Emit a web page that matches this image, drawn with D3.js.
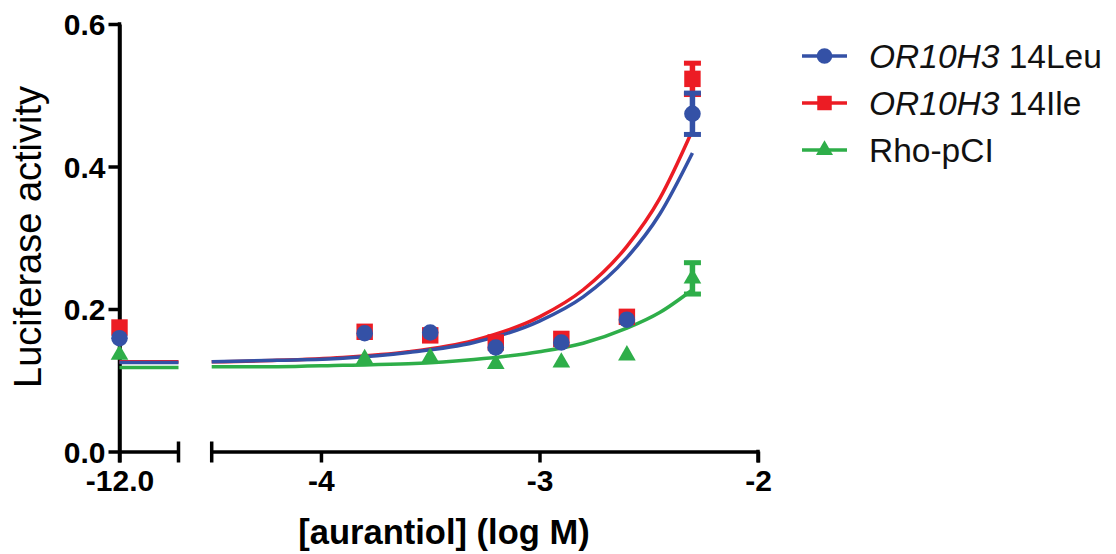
<!DOCTYPE html>
<html><head><meta charset="utf-8">
<script src="https://cdn.jsdelivr.net/npm/d3@7"></script>
<style>body{margin:0;background:#fff}</style>
</head><body><svg id="c" width="1116" height="554"></svg>
<script>
// ---- data ----
const concLeft = [-12.0];
const concRight = [-3.8, -3.5, -3.2, -2.9, -2.6, -2.3];
const leuLeft = [0.159];
const leuRight = [0.166, 0.167, 0.146, 0.153, 0.185, 0.474];
const leuErr = [0, 0, 0, 0, 0, 0.029];
const ileLeft = [0.174];
const ileRight = [0.168, 0.163, 0.153, 0.158, 0.189, 0.523];
const ileErr = [0, 0, 0, 0, 0, 0.022];
const rhoLeft = [0.136];
const rhoRight = [0.130, 0.132, 0.123, 0.125, 0.135, 0.243];
const rhoErr = [0, 0, 0, 0, 0, 0.022];
// fitted curves
const fitLeftX = [-12.0, -11.73];
const leuFitLeft = [0.125, 0.125];
const ileFitLeft = [0.126, 0.126];
const rhoFitLeft = [0.118, 0.118];
const fitX = [-4.5, -4.2, -3.9, -3.6, -3.3, -3.0, -2.8, -2.6, -2.45, -2.3];
const leuFit = [0.126, 0.128, 0.131, 0.139, 0.153, 0.183, 0.217, 0.272, 0.333, 0.419];
const ileFit = [0.126, 0.128, 0.132, 0.140, 0.156, 0.189, 0.227, 0.288, 0.355, 0.451];
const rhoFit = [0.119, 0.119, 0.121, 0.123, 0.129, 0.140, 0.152, 0.173, 0.195, 0.227];
const yTicks = [0, 0.2, 0.4, 0.6];
const xTicksLeft = [-12.0];
const xTicksRight = [-4, -3, -2];
const legendItalic = ["OR10H3", "OR10H3", ""];
const legendRest = [" 14Leu", " 14Ile", "Rho-pCI"];

const colors = {leu: "#3451a6", ile: "#ec1c24", rho: "#2eae49"};
const FONT = "'Liberation Sans', Arial, Helvetica, sans-serif";

const svg = d3.select("#c");
const y = d3.scaleLinear().domain([0, 0.6]).range([451.5, 24]);
const xl = d3.scaleLinear().domain([-12.0, -11.73]).range([119.5, 178.5]);
const xr = d3.scaleLinear().domain([-4.5, -2]).range([211.7, 758]);

const AX = 3.5;
const gy = svg.append("g").attr("transform", `translate(${xl(-12.0)},0)`)
  .call(d3.axisLeft(y).tickValues(yTicks).tickFormat(d => d.toFixed(1)).tickSize(11).tickSizeOuter(0).tickPadding(3));
const gxl = svg.append("g").attr("transform", `translate(0,${y(0)})`)
  .call(d3.axisBottom(xl).tickValues(xTicksLeft).tickFormat(d => d.toFixed(1)).tickSize(11).tickSizeOuter(0).tickPadding(7));
const gxr = svg.append("g").attr("transform", `translate(0,${y(0)})`)
  .call(d3.axisBottom(xr).tickValues(xTicksRight).tickFormat(d => d.toFixed(0)).tickSize(11).tickSizeOuter(0).tickPadding(7));

[gy, gxl, gxr].forEach(g => {
  g.select(".domain").attr("stroke", "#000").attr("stroke-width", AX);
  g.selectAll(".tick line").attr("stroke", "#000").attr("stroke-width", AX);
  g.selectAll(".tick text").attr("fill", "#000").style("font-family", FONT)
    .style("font-weight", "bold").style("font-size", "30px");
});
gy.selectAll(".tick text").attr("dy", "0.36em");
svg.append("line").attr("x1", xl(-12.0)).attr("x2", xl(-12.0)).attr("y1", y(0.6) - AX/2).attr("y2", y(0) + 11)
  .attr("stroke", "#000").attr("stroke-width", AX);
[xl(-11.73), xr(-4.5)].forEach(cx => {
  svg.append("line").attr("x1", cx).attr("x2", cx).attr("y1", y(0) - 10).attr("y2", y(0) + 11)
    .attr("stroke", "#000").attr("stroke-width", AX);
});
svg.append("line").attr("x1", xr(-2)).attr("x2", xr(-2)).attr("y1", y(0) - AX/2).attr("y2", y(0) + 11)
  .attr("stroke", "#000").attr("stroke-width", AX);

// axis titles
svg.append("text").attr("x", 444).attr("y", 544).attr("text-anchor", "middle")
  .style("font-family", FONT).style("font-weight", "bold").style("font-size", "34.5px")
  .text("[aurantiol] (log M)");
svg.append("text").attr("transform", "translate(41,237) rotate(-90)").attr("text-anchor", "middle")
  .style("font-family", FONT).style("font-size", "38px").text("Luciferase activity");

const series = [
  {key: "rho", fitL: rhoFitLeft, fit: rhoFit, ptsL: rhoLeft, pts: rhoRight, err: rhoErr, sym: d3.symbolTriangle, size: 135},
  {key: "ile", fitL: ileFitLeft, fit: ileFit, ptsL: ileLeft, pts: ileRight, err: ileErr, sym: d3.symbolSquare, size: 270},
  {key: "leu", fitL: leuFitLeft, fit: leuFit, ptsL: leuLeft, pts: leuRight, err: leuErr, sym: d3.symbolCircle, size: 215},
];
const lineL = d3.line().x((d, i) => xl(fitLeftX[i])).y(d => y(d));
const lineR = d3.line().x((d, i) => xr(fitX[i])).y(d => y(d)).curve(d3.curveMonotoneX);
series.forEach(s => {
  svg.append("path").attr("d", lineL(s.fitL)).attr("fill", "none").attr("stroke", colors[s.key]).attr("stroke-width", 3.5);
  svg.append("path").attr("d", lineR(s.fit)).attr("fill", "none").attr("stroke", colors[s.key]).attr("stroke-width", 3.5);
});
series.forEach(s => {
  const c = colors[s.key];
  const g = svg.append("g");
  s.pts.forEach((v, i) => {
    const e = s.err[i];
    if (e > 0) {
      const cx = xr(concRight[i]);
      g.append("line").attr("x1", cx).attr("x2", cx).attr("y1", y(v + e)).attr("y2", y(v - e)).attr("stroke", c).attr("stroke-width", 5.5);
      [v + e, v - e].forEach(t => g.append("line").attr("x1", cx - 8.5).attr("x2", cx + 8.5).attr("y1", y(t)).attr("y2", y(t))
        .attr("stroke", c).attr("stroke-width", 5));
    }
  });
  const sym = d3.symbol().type(s.sym).size(s.size);
  s.ptsL.forEach((v, i) => g.append("path").attr("d", sym()).attr("fill", c)
    .attr("transform", `translate(${xl(concLeft[i])},${y(v)})`));
  s.pts.forEach((v, i) => g.append("path").attr("d", sym()).attr("fill", c)
    .attr("transform", `translate(${xr(concRight[i])},${y(v)})`));
});

// legend
const legOrder = [
  {key: "leu", sym: d3.symbolCircle, size: 190},
  {key: "ile", sym: d3.symbolSquare, size: 210},
  {key: "rho", sym: d3.symbolTriangle, size: 125},
];
legOrder.forEach((s, i) => {
  const cy = 56 + i * 47;
  const g = svg.append("g");
  g.append("line").attr("x1", 802).attr("x2", 847).attr("y1", cy).attr("y2", cy).attr("stroke", colors[s.key]).attr("stroke-width", 3.5);
  g.append("path").attr("d", d3.symbol().type(s.sym).size(s.size)()).attr("fill", colors[s.key])
    .attr("transform", `translate(824.5,${cy})`);
  const t = g.append("text").attr("x", 869).attr("y", cy + 11.5).style("font-family", FONT).style("font-size", "33.5px").attr("fill", "#111");
  if (legendItalic[i]) t.append("tspan").style("font-style", "italic").text(legendItalic[i]);
  t.append("tspan").text(legendRest[i]);
});
</script></body></html>
